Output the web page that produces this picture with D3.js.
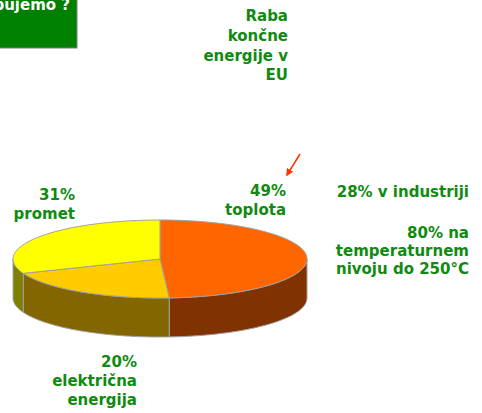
<!DOCTYPE html>
<html>
<head>
<meta charset="utf-8">
<script src="https://cdn.jsdelivr.net/npm/d3@7"></script>
<style>
  body { margin: 0; background: #fff; }
  text { font-family: "DejaVu Sans", Verdana, sans-serif; font-weight: bold; }
</style>
</head>
<body>
<script>
var width = 482, height = 413;

// data
var categories = ["toplota", "električna energija", "promet"];
var shares = [49, 20, 31];
var topColors = ["#ff6600", "#ffcc00", "#ffff00"];
var sideColors = ["#803300", "#836600", "#808000"];

var svg = d3.select("body").append("svg")
    .attr("width", width)
    .attr("height", height);

// pie geometry
var cx = 160, cy = 259, rx = 147, ry = 39, depth = 39;

var pie = d3.pie().sort(null).value(function(d) { return d; });
var arcs = pie(shares);

var topColor = d3.scaleOrdinal().domain(categories).range(topColors);
var sideColor = d3.scaleOrdinal().domain(categories).range(sideColors);

function pt(a, dy) {
    return [cx + rx * Math.sin(a), cy - ry * Math.cos(a) + (dy || 0)];
}

function arcPoints(a0, a1, dy) {
    var n = Math.max(2, Math.ceil((a1 - a0) / 0.02));
    var pts = [];
    for (var i = 0; i <= n; i++) pts.push(pt(a0 + (a1 - a0) * i / n, dy));
    return pts;
}

// side walls (only the front half is visible)
arcs.forEach(function(d, i) {
    var a0 = Math.max(d.startAngle, Math.PI / 2),
        a1 = Math.min(d.endAngle, Math.PI * 1.5);
    if (a1 <= a0) return;
    var pts = arcPoints(a0, a1, 0).concat(arcPoints(a0, a1, depth).reverse());
    svg.append("path")
        .attr("d", "M" + pts.join("L") + "Z")
        .attr("fill", sideColor(categories[i]))
        .attr("stroke", "#a0a0a0")
        .attr("stroke-width", 1);
});

// top faces
arcs.forEach(function(d, i) {
    var pts = [[cx, cy]].concat(arcPoints(d.startAngle, d.endAngle, 0));
    svg.append("path")
        .attr("d", "M" + pts.join("L") + "Z")
        .attr("fill", topColor(categories[i]))
        .attr("stroke", "#a0a0a0")
        .attr("stroke-width", 1);
});

// title box (cut at the top-left edge)
svg.append("rect")
    .attr("x", -2).attr("y", -2)
    .attr("width", 79).attr("height", 50)
    .attr("fill", "#008000")
    .attr("stroke", "#7f7f7f");
svg.append("text")
    .attr("x", 70).attr("y", 10)
    .attr("text-anchor", "end")
    .attr("fill", "#fff")
    .attr("font-size", "15px")
    .text("Kaj kupujemo ?");

// green annotation blocks
var green = "#108a10";
function block(x, lines, anchor) {
    var t = svg.append("text")
        .attr("text-anchor", anchor || "end")
        .attr("fill", green)
        .attr("font-size", "15px");
    lines.forEach(function(l) {
        t.append("tspan").attr("x", x).attr("y", l[1]).text(l[0]);
    });
}

block(288, [["Raba", 21], ["končne", 41], ["energije v", 61], ["EU", 80]]);
block(286, [[shares[0] + "%", 196], [categories[0], 215]]);
block(75, [[shares[2] + "%", 200], [categories[2], 219]]);
block(137, [[shares[1] + "%", 367], ["električna", 386], ["energija", 405]]);
block(469, [["28% v industriji", 197]]);
block(469, [["80% na", 238], ["temperaturnem", 256], ["nivoju do 250°C", 274]]);

// red arrow
svg.append("defs").append("marker")
    .attr("id", "head")
    .attr("viewBox", "0 0 10 10")
    .attr("refX", 8).attr("refY", 5)
    .attr("markerWidth", 5).attr("markerHeight", 5)
    .attr("orient", "auto")
    .append("path")
    .attr("d", "M0,0L10,5L0,10Z")
    .attr("fill", "#ff3300");
svg.append("line")
    .attr("x1", 300).attr("y1", 154)
    .attr("x2", 287).attr("y2", 175)
    .attr("stroke", "#ff3300")
    .attr("stroke-width", 1.5)
    .attr("marker-end", "url(#head)");
</script>
</body>
</html>
